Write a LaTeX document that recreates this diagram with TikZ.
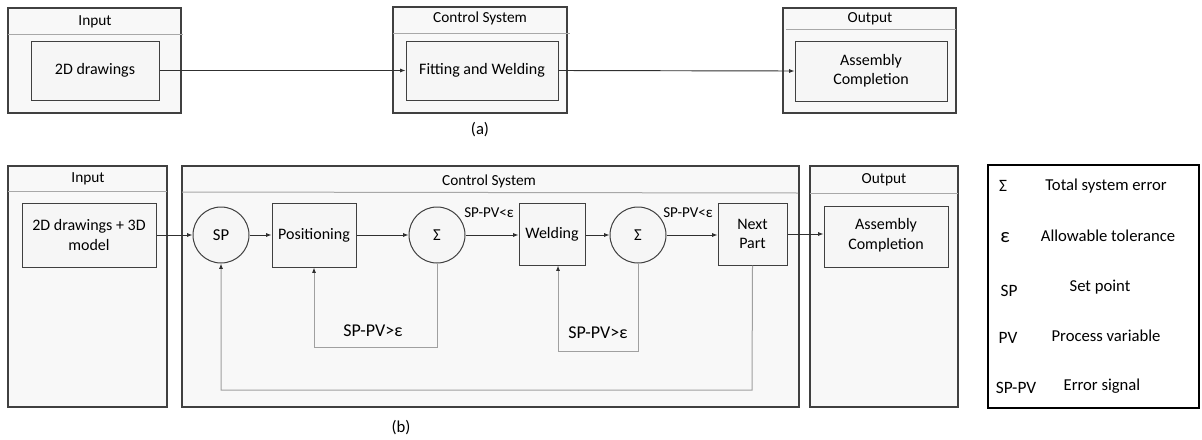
\documentclass[tikz,border=0pt]{standalone}
\usepackage{fontspec}
\setmainfont{Carlito}
\usetikzlibrary{arrows.meta,fit}
\definecolor{bord}{HTML}{404040}
\definecolor{fillA}{HTML}{F8F8F8}
\definecolor{fillB}{HTML}{F6F6F6}
\definecolor{hdrc}{HTML}{A8A8A8}
\definecolor{fbc}{HTML}{A0A0A0}
\definecolor{arrc}{HTML}{303030}
\begin{document}
\begin{tikzpicture}[x=0.75pt,y=-0.75pt,
 outer/.style={draw=bord, fill=fillA, line width=0.9pt, inner sep=0pt},
 inbox/.style={draw=bord, fill=fillB, line width=0.75pt, inner sep=0pt},
 btxt/.style={align=center, inner sep=0pt, font=\fontsize{12}{14.5}\selectfont},
 circ/.style={circle, draw=bord, fill=fillB, line width=0.75pt, minimum size=42pt, inner sep=0pt, font=\fontsize{12.5}{14}\selectfont},
 hdr/.style={draw=hdrc, line width=0.75pt},
 ttl/.style={font=\fontsize{11.5}{13}\selectfont, inner sep=0pt},
 captxt/.style={font=\fontsize{12.5}{14}\selectfont, inner sep=0pt},
 arr/.style={draw=arrc, line width=0.7pt, -{Latex[length=4pt,width=3pt]}},
 fb/.style={draw=fbc, line width=0.75pt, -{Latex[length=4pt,width=3pt,color=arrc]}},
 lt/.style={font=\fontsize{11.3}{13}\selectfont, inner sep=0pt},
 gt/.style={font=\fontsize{13.5}{16}\selectfont, inner sep=0pt},
 lsym/.style={font=\fontsize{13}{15}\selectfont, inner sep=0pt},
 ldesc/.style={font=\fontsize{12.5}{15}\selectfont, inner sep=0pt},
]
\useasboundingbox (0,0) rectangle (1202,439);

% ---------- (a) ----------
\node[outer, fit={(8,8)(181,113)}] (inA) {};
\draw[hdr] (8,34) -- (183,34);
\node[ttl] (inAt) at (95,22) {Input};
\node[inbox, fit={(31,41)(159,100)}] (drA) {};
\node[btxt] (drAt) at (drA.center) {2D drawings};

\node[outer, fit={(393,7)(567,113)}] (csA) {};
\draw[hdr] (393,33) -- (570,33);
\node[ttl] (csAt) at (480,18) {Control System};
\node[inbox, fit={(406,41)(558,100)}] (fwA) {};
\node[btxt] (fwAt) at (fwA.center) {Fitting and Welding};

\node[outer, fit={(783,8)(956,113)}] (outA) {};
\draw[hdr] (786,29) -- (956,29);
\node[ttl] (outAt) at (870,19) {Output};
\node[inbox, fit={(795,41)(947,101)}] (asA) {};
\node[btxt] (asAt) at (asA.center) {Assembly\\Completion};

\draw[arr] (drA.east) -- (fwA.west);
\draw[arr] (fwA.east) -- (asA.west);
\node[captxt] (capA) at (480,130) {(a)};

% ---------- (b) ----------
\node[outer, fit={(8,166)(167,407)}] (inB) {};
\draw[hdr] (8,191) -- (167,191);
\node[ttl] (inBt) at (88,179) {Input};
\node[inbox, fit={(22,203)(156,267)}] (drB) {};
\node[btxt] (drBt) at (drB.center) {2D drawings + 3D\\model};

\node[outer, fit={(182,166)(799,407)}] (csB) {};
\draw[hdr] (182,192) -- (798,193);
\node[ttl] (csBt) at (489,181) {Control System};

\node[circ] (sp) at (221,235) {SP};
\node[inbox, fit={(272,203)(356,267)}] (pos) {};
\node[btxt] (post) at (pos.center) {Positioning};
\node[circ] (s1) at (437,235) {Σ};
\node[inbox, fit={(519,203)(585,265)}] (wel) {};
\node[btxt] (welt) at (wel.center) {Welding};
\node[circ] (s2) at (638,235) {Σ};
\node[inbox, fit={(718,203)(787,265)}] (np) {};
\node[btxt] (npt) at (np.center) {Next\\Part};

\node[outer, fit={(810,166)(958,407)}] (outB) {};
\draw[hdr] (810,193) -- (958,193);
\node[ttl] (outBt) at (884,180) {Output};
\node[inbox, fit={(824,206)(948,267)}] (asB) {};
\node[btxt] (asBt) at ([yshift=1pt]asB.center) {Assembly\\Completion};

\draw[arr] (drB.east |- sp.west) -- (sp.west);
\draw[arr] (sp.east) -- (pos.west |- sp.east);
\draw[arr] (pos.east |- s1.west) -- (s1.west);
\draw[arr] (s1.east) -- (wel.west |- s1.east);
\draw[arr] (wel.east |- s2.west) -- (s2.west);
\draw[arr] (s2.east) -- (np.west |- s2.east);
\draw[arr] (np.east) -- (asB.west |- np.east);

\node[lt] (l1) at (489,213) {SP-PV<ε};
\node[lt] (l2) at (688,213) {SP-PV<ε};

\coordinate (f1) at (314,347);
\coordinate (f2) at (558,351);
\coordinate (f3) at (752,390);
\draw[fb] (s1.south) |- (f1) -- (pos.south);
\draw[fb] (s2.south) |- (f2) -- (f2 |- wel.south);
\draw[fb] (np.south) -- (f3) -| (sp.south);

\node[gt] (g1) at (373,331) {SP-PV>ε};
\node[gt] (g2) at (598,333) {SP-PV>ε};

\node[captxt] (capB) at (401,428) {(b)};

% ---------- legend ----------
\node[draw=black, line width=1.5pt, inner sep=0pt, fit={(988,165)(1199,408)}] (leg) {};
\node[lsym] (k1) at (1003,186) {Σ};
\node[ldesc] (d1) at (1106,186) {Total system error};
\node[lsym, font=\fontsize{15.5}{17}\selectfont] (k2) at (1005,238) {ε};
\node[ldesc] (d2) at (1108,236) {Allowable tolerance};
\node[lsym] (k3) at (1009,291) {SP};
\node[ldesc] (d3) at (1100,287) {Set point};
\node[lsym] (k4) at (1008,338) {PV};
\node[ldesc] (d4) at (1106,336) {Process variable};
\node[lsym] (k5) at (1016,388) {SP-PV};
\node[ldesc] (d5) at (1102,386) {Error signal};
\end{tikzpicture}
\end{document}
